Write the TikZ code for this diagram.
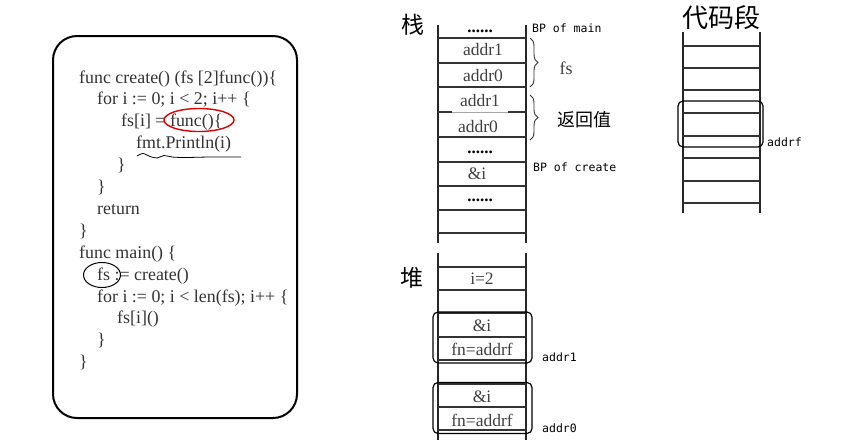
\documentclass[tikz,border=0pt]{standalone}
\usepackage{fontspec}
\setmainfont{Liberation Serif}
\newfontfamily\cjk{Noto Sans CJK SC}
\newfontfamily\hand{DejaVu Sans Mono}
\usetikzlibrary{decorations.pathreplacing,shapes.geometric}
\begin{document}
\begin{tikzpicture}[x=1pt,y=-1pt]
\tikzset{
  code/.style={anchor=base west,inner sep=0pt,font=\fontsize{17.9}{17.9}\selectfont,text=black!80},
  cell/.style={inner sep=0pt,font=\fontsize{17.5}{17.5}\selectfont,text=black!75},
  dots/.style={inner sep=0pt,font=\bfseries\fontsize{17}{17}\selectfont},
  lbl/.style={anchor=west,inner sep=0pt,font=\hand\fontsize{11.5}{11.5}\selectfont},
  title/.style={inner sep=0pt,font=\cjk\fontsize{23}{23}\selectfont},
  wall/.style={line width=1.1pt,black!85},
  hline/.style={line width=1.1pt,black!80},
  hbox/.style={draw,line width=1.2pt,rounded corners=5pt,inner sep=0pt},
  brc/.style={decorate,decoration={brace,amplitude=8pt},line width=0.9pt,black!80}
}
\useasboundingbox (0,0) rectangle (841,440);
\fill[white] (0,0) rectangle (841,440);

% ---------- code box ----------
\node[draw,line width=2pt,rounded corners=24pt,minimum width=244,minimum height=382,inner sep=0pt] (codebox) at (175,227) {};
\node[code] (l1) at (79,83) {func create() (fs [2]func())\{};
\node[code] (l2) at (97,104.9) {for i := 0; i < 2; i++ \{};
\node[code] (l3) at (121,126.8) {fs[i] = func()\{};
\node[code] (l4) at (136,148.7) {fmt.Println(i)};
\node[code] (l5) at (117,170.6) {\}};
\node[code] (l6) at (97,192.5) {\}};
\node[code] (l7) at (97,214.4) {return};
\node[code] (l8) at (79,236.3) {\}};
\node[code] (l9) at (79,258.2) {func main() \{};
\node[code] (l10) at (97,280.1) {fs := create()};
\node[code] (l11) at (97,302) {for i := 0; i < len(fs); i++ \{};
\node[code] (l12) at (117,323.9) {fs[i]()};
\node[code] (l13) at (97,345.8) {\}};
\node[code] (l14) at (79,367.7) {\}};
\node[ellipse,draw=red!85!black,line width=1.4pt,minimum width=70,minimum height=23,inner sep=0pt] (redring) at (199,120) {};
\node[ellipse,draw,line width=1pt,minimum width=37,minimum height=25,inner sep=0pt] (fsring) at (102,275) {};
\draw[line width=0.8pt] plot[smooth] coordinates {(137,156) (143,153.5) (150,156.5) (157,158) (164,155.5) (172,157) (185,157.5) (210,157) (241,157)};

% ---------- stack ----------
\node[title] (zhan) at (413,25) {栈};
\draw[wall] (438,25) -- (438,243);
\draw[wall] (526,25) -- (526,243);
\foreach \y in {38,63,87,137,162,186,210,233}
  \draw[hline] (438,\y) -- (526,\y);
\draw[hline] (438,112) -- (452,112);
\draw[hline] (508,112) -- (526,112);
\draw[line width=0.6pt,black!35] (452,112) -- (508,112);
\node[dots] (s0) at (480,31) {......};
\node[cell] (s1) at (483,50) {addr1};
\node[cell] (s2) at (483,76) {addr0};
\node[cell] (s3) at (480,101) {addr1};
\node[cell] (s4) at (478,127) {addr0};
\node[dots] (s5) at (480,152) {......};
\node[cell] (s6) at (477,174) {\&i};
\node[dots] (s7) at (480,200) {......};
\node[lbl] (bpmain) at (532,28) {BP of main};
\node[lbl] (bpcreate) at (533,167) {BP of create};
\coordinate (b1a) at (530,38);
\coordinate (b1b) at (530,87);
\coordinate (b2a) at (530,95);
\coordinate (b2b) at (530,140);
\draw[brc] (b1a) -- (b1b);
\draw[brc] (b2a) -- (b2b);
\node[cell,font=\fontsize{18}{18}\selectfont] (fslbl) at (566,68) {fs};
\node[inner sep=0pt,font=\cjk\fontsize{18}{18}\selectfont] (ret) at (584,120) {返回值};

% ---------- heap ----------
\node[title] (dui) at (412,278) {堆};
\draw[wall] (438,253) -- (438,440);
\draw[wall] (526,253) -- (526,440);
\foreach \y in {267,290,313,337,360,384,407,430}
  \draw[hline] (438,\y) -- (526,\y);
\node[cell] (h1) at (482,279) {i=2};
\node[hbox,minimum width=99,minimum height=51] (obj1) at (482.5,337.5) {};
\node[hbox,minimum width=99,minimum height=51] (obj0) at (482.5,408) {};
\node[cell] (h2) at (482,326) {\&i};
\node[cell] (h3) at (482,349) {fn=addrf};
\node[cell] (h4) at (482,397) {\&i};
\node[cell] (h5) at (482,420) {fn=addrf};
\node[lbl] (a1) at (542,357) {addr1};
\node[lbl] (a0) at (542,428) {addr0};

% ---------- code segment ----------
\node[inner sep=0pt,font=\cjk\fontsize{26}{26}\selectfont] (dmd) at (721,18) {代码段};
\draw[wall] (683,32) -- (683,213);
\draw[wall] (760,32) -- (760,213);
\foreach \y in {46,68,90,113,136,158,181,203}
  \draw[hline] (683,\y) -- (760,\y);
\node[hbox,minimum width=85,minimum height=46] (fbox) at (720.5,124) {};
\node[lbl] (addrf) at (767,142) {addrf};
\end{tikzpicture}
\end{document}
